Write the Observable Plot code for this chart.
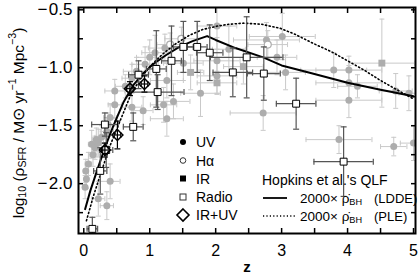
<!DOCTYPE html>
<html><head><meta charset="utf-8">
<script src="https://cdn.jsdelivr.net/npm/d3@7"></script>
<script src="https://cdn.jsdelivr.net/npm/@observablehq/plot@0.6"></script>
<style>
body{margin:0;background:#fff;}
#chart svg{display:block;}
</style></head><body><div id="chart"></div>
<script>
// [z, log10 rho_SFR, z half-error, log half-error]
const uv = [
 [0.02,-2.03,0.02,0.10],[0.04,-1.96,0.03,0.08],[0.03,-1.89,0.03,0.10],[0.07,-1.83,0.05,0.10],
 [0.12,-1.66,0.05,0.12],[0.14,-1.75,0.06,0.10],[0.17,-1.69,0.05,0.10],[0.19,-1.62,0.06,0.10],
 [0.22,-1.65,0.08,0.12],[0.27,-1.60,0.10,0.10],[0.35,-1.55,0.10,0.12],[0.37,-1.49,0.10,0.10],
 [0.40,-1.43,0.10,0.12],[0.22,-2.13,0.10,0.15],[0.35,-2.19,0.10,0.12],[0.40,-1.98,0.15,0.15],
 [0.47,-1.32,0.10,0.12],[0.47,-1.20,0.15,0.10],[0.63,-1.16,0.15,0.10],[0.73,-1.09,0.15,0.12],
 [0.80,-1.03,0.20,0.12],[0.93,-0.97,0.20,0.15],[1.00,-0.91,0.20,0.15],[1.08,-0.87,0.20,0.15],
 [1.23,-0.83,0.25,0.12],[1.26,-1.11,0.25,0.15],[1.21,-1.32,0.20,0.15],[1.36,-1.29,0.25,0.15],
 [1.26,-1.44,0.25,0.15],[0.90,-1.37,0.15,0.12],[0.73,-1.34,0.15,0.12],[1.51,-0.96,0.30,0.15],
 [2.02,-0.64,0.30,0.20],[2.02,-0.94,0.35,0.20],[2.02,-1.07,0.30,0.15],[1.77,-1.22,0.30,0.20],
 [2.20,-0.84,0.25,0.20],[2.72,-1.39,0.50,0.15],[2.77,-0.76,0.50,0.15],[3.01,-0.73,0.50,0.20],
 [2.93,-0.91,0.30,0.15],[3.06,-1.04,0.30,0.15],[3.79,-1.02,0.50,0.15],[4.02,-1.02,0.50,0.12],
 [4.02,-1.13,0.50,0.15],[4.15,-1.16,0.30,0.10],[4.02,-1.28,0.50,0.15],[4.73,-1.20,0.25,0.15],
 [4.93,-1.22,0.15,0.15],[3.87,-1.62,0.50,0.12],[4.70,-1.68,0.20,0.08],[5.00,-1.65,0.20,0.15]
];
const halpha = [[1.48,-0.75,0.25,0.10],[2.79,-0.80,0.30,0.12],[1.31,-0.80,0.20,0.10]];
const ir = [[1.62,-1.04,0.20,0.15],[2.02,-1.13,0.30,0.10],[2.42,-0.99,0.30,0.15],[4.52,-0.96,0.50,0.38]];
const radio = [
 [0.13,-2.39,0.08,0.10],[0.25,-1.89,0.10,0.20],[0.32,-1.49,0.20,0.10],[0.34,-1.71,0.10,0.15],
 [0.75,-1.51,0.15,0.12],[0.83,-1.06,0.15,0.12],[1.10,-1.01,0.15,0.33],[1.12,-1.21,0.40,0.15],
 [1.33,-0.94,0.15,0.30],[1.51,-0.82,0.15,0.22],[1.72,-0.82,0.15,0.22],[1.91,-0.87,0.20,0.24],
 [2.26,-1.04,0.30,0.21],[2.47,-0.91,0.55,0.35],[2.73,-1.05,0.25,0.23],[3.22,-1.31,0.30,0.22],
 [3.94,-1.81,0.45,0.30]
];
const irUv = [[0.32,-1.71,0.05,0.06],[0.51,-1.58,0.05,0.12],[0.70,-1.18,0.05,0.06],[0.92,-1.14,0.05,0.07]];
// Hopkins et al. QLF: 2000 x rho_BH
const ldde = [[0.02,-2.22],[0.1,-2.06],[0.2,-1.89],[0.32,-1.69],[0.45,-1.50],[0.6,-1.30],[0.75,-1.15],
 [0.9,-1.05],[1.05,-0.97],[1.25,-0.89],[1.45,-0.82],[1.65,-0.77],[1.87,-0.727],[2.0,-0.76],[2.3,-0.83],
 [2.72,-0.91],[3.0,-0.98],[3.44,-1.045],[4.0,-1.13],[4.5,-1.19],[5.0,-1.245]];
const ple = [[0.04,-2.32],[0.15,-2.1],[0.27,-1.89],[0.4,-1.67],[0.55,-1.46],[0.7,-1.25],[0.85,-1.10],
 [1.0,-0.99],[1.2,-0.88],[1.4,-0.79],[1.6,-0.72],[1.8,-0.67],[2.03,-0.64],[2.2,-0.625],[2.42,-0.615],
 [2.7,-0.625],[2.98,-0.66],[3.2,-0.71],[3.48,-0.79],[3.75,-0.86],[4.0,-0.94],[4.25,-1.02],[4.5,-1.11],
 [4.75,-1.19],[5.0,-1.27]];
const xTicks = [0,1,2,3,4,5];
const yTicks = [-2.0,-1.5,-1.0,-0.5];

const rows = a => a.map(([z,v,dz,dv]) => ({z,v,dz,dv}));
const uvR = rows(uv), haR = rows(halpha), irR = rows(ir), raR = rows(radio), iuR = rows(irUv);
const grayR = [...uvR, ...haR, ...irR];
const curve = a => a.map(([z,v]) => ({z,v}));

const rad = s => Math.sqrt(s/Math.PI);
const hCap = {draw(c,s){const r=rad(s); c.moveTo(-r,0); c.lineTo(r,0);}};
const vCap = {draw(c,s){const r=rad(s); c.moveTo(0,-r); c.lineTo(0,r);}};
const diamond = {draw(c,s){const r=rad(s); c.moveTo(0,-r); c.lineTo(r,0); c.lineTo(0,r); c.lineTo(-r,0); c.closePath();}};

function errorBars(data, color, w, cap) {
  const o = {stroke: color, strokeWidth: w, clip: true};
  const d = {fill: "none", r: cap, ...o};
  return [
    Plot.ruleX(data, {x: "z", y1: d => d.v - d.dv, y2: d => d.v + d.dv, ...o}),
    Plot.ruleY(data, {y: "v", x1: d => d.z - d.dz, x2: d => d.z + d.dz, ...o}),
    Plot.dot(data, {x: "z", y: d => d.v - d.dv, symbol: hCap, ...d}),
    Plot.dot(data, {x: "z", y: d => d.v + d.dv, symbol: hCap, ...d}),
    Plot.dot(data, {x: d => d.z - d.dz, y: "v", symbol: vCap, ...d}),
    Plot.dot(data, {x: d => d.z + d.dz, y: "v", symbol: vCap, ...d})
  ];
}
const minorX = d3.range(0, 5.01, 0.5);
const minorY = d3.range(-2.25, -0.49, 0.25);
const font = "'Liberation Sans', Arial, Helvetica, sans-serif";

const plot = Plot.plot({
  width: 420, height: 276,
  marginLeft: 78, marginRight: 5, marginTop: 7, marginBottom: 43,
  x: {domain: [-0.08, 5.03]},
  y: {domain: [-2.43, -0.48]},
  style: {fontFamily: font, color: "black", background: "white"},
  marks: [
    ...errorBars(grayR, "#c9c9c9", 1, 2.5),
    Plot.dot(uvR, {x: "z", y: "v", r: 3.5, fill: "#adadad", clip: true}),
    Plot.dot(irR, {x: "z", y: "v", r: 3.9, symbol: "square", fill: "#adadad", clip: true}),
    Plot.dot(haR, {x: "z", y: "v", r: 3.5, fill: "white", stroke: "#adadad", strokeWidth: 1.2, clip: true}),
    Plot.line(curve(ldde), {x: "z", y: "v", stroke: "black", strokeWidth: 2, clip: true}),
    Plot.line(curve(ple), {x: "z", y: "v", stroke: "black", strokeWidth: 1.6, strokeDasharray: "1.2,2.6", clip: true}),
    ...errorBars(raR, "#555", 1.2, 3),
    Plot.dot(raR, {x: "z", y: "v", r: 3.9, symbol: "square", fill: "white", stroke: "black", strokeWidth: 1, clip: true}),
    ...errorBars(iuR, "black", 1.2, 3),
    Plot.dot(iuR, {x: "z", y: "v", r: 5.5, symbol: diamond, fill: "none", stroke: "black", strokeWidth: 1.5, clip: true}),
    Plot.axisX({anchor: "bottom", ticks: minorX, tickSize: -5, fill: "none", label: null, strokeWidth: 1.5}),
    Plot.axisX({anchor: "top", ticks: minorX, tickSize: -5, fill: "none", label: null, strokeWidth: 1.5}),
    Plot.axisY({anchor: "left", ticks: minorY, tickSize: -5, fill: "none", label: null, strokeWidth: 1.5}),
    Plot.axisY({anchor: "right", ticks: minorY, tickSize: -5, fill: "none", label: null, strokeWidth: 1.5}),
    Plot.axisX({anchor: "bottom", ticks: xTicks, tickSize: 0, tickPadding: 11, fontSize: 16, label: null, tickFormat: d => String(d)}),
    Plot.axisY({anchor: "left", ticks: yTicks, tickSize: 0, tickPadding: 6, fontSize: 17, label: null,
      tickFormat: d => "\u2212\u200A" + Math.abs(d).toFixed(1)}),
    Plot.frame({stroke: "black", strokeWidth: 2})
  ]
});
document.getElementById("chart").appendChild(plot);

// Annotations: axis titles and legends
const svg = d3.select(plot);
const g = svg.append("g").attr("font-family", font).attr("fill", "black").attr("text-anchor", "start");

// rich text helper: segments [text, kind] kind: n normal, b subscript, p superscript
function rich(t, size, segs) {
  const small = size * 0.68;
  let cur = 0;
  segs.forEach(([s, k]) => {
    const target = k === "b" ? size * 0.28 : k === "p" ? -size * 0.42 : 0;
    const sp = t.append("tspan").attr("dy", (target - cur).toFixed(2)).text(s);
    if (k !== "n") sp.attr("font-size", small);
    cur = target;
  });
}

// y-axis title
const yl = g.append("text").attr("transform", "translate(18,123) rotate(-90)")
  .attr("text-anchor", "middle").attr("dominant-baseline", "central").attr("font-size", 15.5);
rich(yl, 15.5, [["log","n"],["10","b"],[" (\u03C1","n"],["SFR","b"],[" / M\u2299 yr","n"],["\u22121","p"],[" Mpc","n"],["\u22123","p"],[")","n"]]);

// x-axis title
g.append("text").attr("x", 247).attr("y", 266).attr("text-anchor", "middle").attr("dominant-baseline", "central")
  .attr("font-size", 15).attr("font-weight", "bold").text("z");

// data-set legend
const legRows = [
  {label: "UV", y: 142}, {label: "H\u03B1", y: 160.5}, {label: "IR", y: 178.5},
  {label: "Radio", y: 197}, {label: "IR+UV", y: 215}
];
const sx = 183;
g.append("circle").attr("cx", sx).attr("cy", 142).attr("r", 3).attr("fill", "black");
g.append("circle").attr("cx", sx).attr("cy", 160.5).attr("r", 2.8).attr("fill", "none").attr("stroke", "#333").attr("stroke-width", 1);
g.append("rect").attr("x", sx - 3).attr("y", 178.5 - 3).attr("width", 6).attr("height", 6).attr("fill", "black");
g.append("rect").attr("x", sx - 3).attr("y", 197 - 3).attr("width", 6).attr("height", 6).attr("fill", "none").attr("stroke", "#333");
g.append("path").attr("d", `M${sx},${215-6}L${sx+6},215L${sx},${215+6}L${sx-6},215Z`).attr("fill", "none").attr("stroke", "black").attr("stroke-width", 1.6);
legRows.forEach(r => g.append("text").attr("x", 196).attr("y", r.y).attr("dominant-baseline", "central")
  .attr("font-size", 14).text(r.label));

// QLF legend
g.append("text").attr("x", 262).attr("y", 180).attr("dominant-baseline", "central").attr("font-size", 14)
  .text("Hopkins et al.'s QLF");
g.append("line").attr("x1", 263).attr("x2", 287).attr("y1", 198).attr("y2", 198).attr("stroke", "black").attr("stroke-width", 1.8);
g.append("line").attr("x1", 263).attr("x2", 297).attr("y1", 216).attr("y2", 216).attr("stroke", "black").attr("stroke-width", 1.4).attr("stroke-dasharray", "1.2,2.2");
[{y: 198, tag: "(LDDE)"}, {y: 216, tag: "(PLE)"}].forEach(r => {
  const t = g.append("text").attr("x", 300).attr("y", r.y).attr("dominant-baseline", "central").attr("font-size", 13.5);
  rich(t, 13.5, [["2000\u00D7 \u03C1\u0307","n"],["BH","b"]]);
  g.append("text").attr("x", 374).attr("y", r.y).attr("dominant-baseline", "central").attr("font-size", 13).text(r.tag);
});
</script></body></html>
